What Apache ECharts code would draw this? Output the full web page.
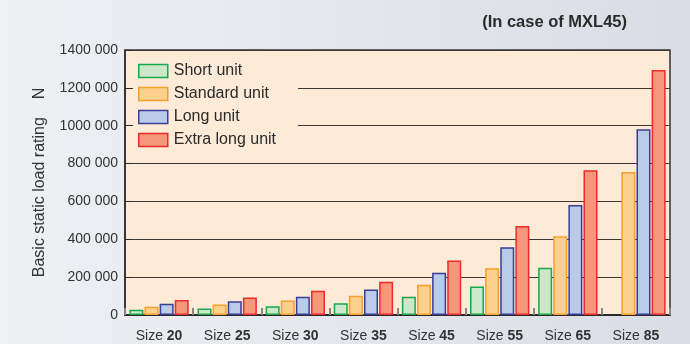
<!DOCTYPE html>
<html>
<head>
<meta charset="utf-8">
<script src="https://cdn.jsdelivr.net/npm/echarts@6/dist/echarts.min.js"></script>
<style>
  html, body { margin: 0; padding: 0; }
  #chart { width: 690px; height: 344px; }
</style>
</head>
<body>
<div id="chart"></div>
<script>
// Basic static load rating (N) per rail size, MXL45 series
const sizes = ['20', '25', '30', '35', '45', '55', '65', '85'];
const shortUnit = [28000, 35000, 46000, 62000, 97000, 150000, 250000, null];
const standardUnit = [44000, 56000, 76000, 102000, 160000, 247000, 416000, 755000];
const longUnit = [60000, 72000, 97000, 135000, 223000, 358000, 581000, 981000];
const extraLongUnit = [79000, 93000, 128000, 176000, 288000, 470000, 765000, 1295000];
const yTicks = [0, 200000, 400000, 600000, 800000, 1000000, 1200000, 1400000];

const FONT = '"Liberation Sans", Arial, Helvetica, sans-serif';

// "1400 000" style: space before the last three digits
function fmt(v) {
  if (v < 1000) return String(v);
  const s = String(v);
  return s.slice(0, s.length - 3) + ' ' + s.slice(-3);
}

const seriesDefs = [
  { name: 'Short unit', data: shortUnit, fill: '#cde7cb', line: '#17a94a' },
  { name: 'Standard unit', data: standardUnit, fill: '#fdd08e', line: '#f7a02e' },
  { name: 'Long unit', data: longUnit, fill: '#b8cbe8', line: '#3b3e98' },
  { name: 'Extra long unit', data: extraLongUnit, fill: '#f5977a', line: '#ee2a2d' }
];

const chart = echarts.init(document.getElementById('chart'), null, { renderer: 'canvas' });

chart.setOption({
  animation: false,
  backgroundColor: {
    type: 'linear', x: 0, y: 0, x2: 1, y2: 0,
    colorStops: [
      { offset: 0, color: '#eef0f4' },
      { offset: 1, color: '#dadde5' }
    ]
  },
  textStyle: { fontFamily: FONT },
  title: {
    text: '(In case of MXL45)',
    right: 58,
    top: 9,
    textStyle: { fontFamily: FONT, fontSize: 16.5, fontWeight: 'bold', color: '#2b2b2b' }
  },
  legend: {
    orient: 'vertical',
    left: 133,
    top: 51,
    padding: [12, 22, 10, 5],
    itemGap: 7,
    itemWidth: 29,
    itemHeight: 13,
    backgroundColor: '#fdebd7',
    icon: 'rect',
    textStyle: { fontFamily: FONT, fontSize: 16, color: '#2b2b2b', padding: [0, 0, 0, 1] },
    data: seriesDefs.map(s => ({
      name: s.name,
      itemStyle: { color: s.fill, borderColor: s.line, borderWidth: 1.5 }
    }))
  },
  grid: {
    left: 125, right: 20, top: 50, bottom: 29,
    show: true,
    backgroundColor: '#fdebd7',
    borderColor: '#333',
    borderWidth: 1.5
  },
  xAxis: {
    type: 'category',
    data: sizes,
    axisLine: { lineStyle: { color: '#2b2b2b', width: 2 } },
    axisTick: { show: true, inside: true, interval: 0, length: 7, lineStyle: { color: '#8a8580', width: 2 } },
    axisLabel: {
      interval: 0,
      margin: 14,
      formatter: v => '{a|Size }{b|' + v + '}',
      rich: {
        a: { fontFamily: FONT, fontSize: 14, color: '#333' },
        b: { fontFamily: FONT, fontSize: 14, fontWeight: 'bold', color: '#333' }
      }
    }
  },
  yAxis: {
    type: 'value',
    min: yTicks[0],
    max: yTicks[yTicks.length - 1],
    interval: 200000,
    name: 'Basic static load rating    N',
    nameLocation: 'middle',
    nameGap: 77,
    nameTextStyle: { fontFamily: FONT, fontSize: 16, color: '#333' },
    axisLine: { show: true, lineStyle: { color: '#2b2b2b', width: 1.5 } },
    axisTick: { show: true, inside: true, length: 7, lineStyle: { color: '#2b2b2b' } },
    axisLabel: {
      margin: 7,
      fontFamily: FONT,
      fontSize: 14,
      color: '#333',
      formatter: fmt
    },
    splitLine: { show: true, lineStyle: { color: '#3e3834', width: 1.2 } }
  },
  series: seriesDefs.map(s => ({
    name: s.name,
    type: 'bar',
    data: s.data,
    barWidth: 14,
    barGap: '8%',
    itemStyle: { color: s.fill, borderColor: s.line, borderWidth: 1.5 }
  }))
});
</script>
</body>
</html>
